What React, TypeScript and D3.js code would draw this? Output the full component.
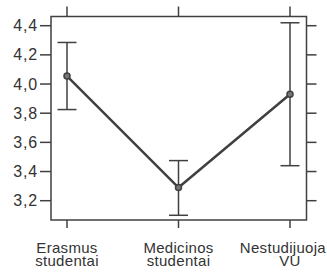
import React, { useEffect, useRef } from "react";
import * as d3 from "d3";

const categories = ["Erasmus\nstudentai", "Medicinos\nstudentai", "Nestudijuoja\nVU"];
const means = [4.055, 3.29, 3.93];
const upper = [4.285, 3.475, 4.42];
const lower = [3.825, 3.1, 3.44];
const yTicks = [3.2, 3.4, 3.6, 3.8, 4.0, 4.2, 4.4];

const App: React.FC = () => {
  const svgRef = useRef<SVGSVGElement>(null);

  useEffect(() => {
    if (!svgRef.current) return;
    const width = 327;
    const height = 275;
    const box = { left: 51, right: 306.5, top: 16.5, bottom: 220 };
    const color = "#404040";
    const font = "Liberation Sans, Arial, sans-serif";

    const svg = d3.select(svgRef.current);
    svg.selectAll("*").remove();
    svg.attr("width", width).attr("height", height).style("display", "block");

    const x = d3
      .scalePoint<number>()
      .domain(categories.map((_, i) => i))
      .range([67, 290]);
    const y = d3.scaleLinear().domain([3.2, 4.4]).range([200.7, 25.7]);

    const fmt = (v: number) => d3.format(".1f")(v).replace(".", ",");

    // frame
    svg
      .append("rect")
      .attr("x", box.left)
      .attr("y", box.top)
      .attr("width", box.right - box.left)
      .attr("height", box.bottom - box.top)
      .attr("fill", "none")
      .attr("stroke", color)
      .attr("stroke-width", 1.5);

    // y ticks left and right
    const yt = svg.append("g");
    yTicks.forEach((t) => {
      yt.append("line")
        .attr("x1", box.left - 11)
        .attr("x2", box.left)
        .attr("y1", y(t))
        .attr("y2", y(t))
        .attr("stroke", color)
        .attr("stroke-width", 1.5);
      yt.append("line")
        .attr("x1", box.right)
        .attr("x2", box.right + 10)
        .attr("y1", y(t))
        .attr("y2", y(t))
        .attr("stroke", color)
        .attr("stroke-width", 1.5);
      yt.append("text")
        .attr("x", box.left - 13)
        .attr("y", y(t))
        .attr("dy", "0.35em")
        .attr("text-anchor", "end")
        .attr("font-family", font)
        .attr("font-size", 16)
        .attr("letter-spacing", 0.8)
        .attr("fill", "#333")
        .text(fmt(t));
    });

    // x ticks top and bottom, labels
    categories.forEach((c, i) => {
      svg
        .append("line")
        .attr("x1", x(i)!)
        .attr("x2", x(i)!)
        .attr("y1", box.top - 10)
        .attr("y2", box.top)
        .attr("stroke", color)
        .attr("stroke-width", 1.5);
      svg
        .append("line")
        .attr("x1", x(i)!)
        .attr("x2", x(i)!)
        .attr("y1", box.bottom)
        .attr("y2", box.bottom + 8)
        .attr("stroke", color)
        .attr("stroke-width", 1.5);
      c.split("\n").forEach((line, j) => {
        const t = svg
          .append("text")
          .attr("text-anchor", "middle")
          .attr("font-family", font)
          .attr("font-size", 15)
          .attr("letter-spacing", 0.3)
          .attr("fill", "#333")
          .attr("x", x(i)!)
          .attr("y", 253 + j * 13)
          .text(line);
        // keep label inside the picture
        const w = (t.node() as SVGTextElement).getComputedTextLength();
        const cx = Math.min(x(i)!, width - 1 - w / 2);
        t.attr("x", cx);
      });
    });

    // error bars
    const cap = 9.5;
    categories.forEach((_, i) => {
      const g = svg.append("g").attr("stroke", color).attr("stroke-width", 1.5);
      g.append("line")
        .attr("x1", x(i)!)
        .attr("x2", x(i)!)
        .attr("y1", y(upper[i]))
        .attr("y2", y(lower[i]));
      [upper[i], lower[i]].forEach((v) => {
        g.append("line")
          .attr("x1", x(i)! - cap)
          .attr("x2", x(i)! + cap)
          .attr("y1", y(v))
          .attr("y2", y(v));
      });
    });

    // mean line
    const line = d3
      .line<number>()
      .x((_, i) => x(i)!)
      .y((d) => y(d));
    svg
      .append("path")
      .datum(means)
      .attr("fill", "none")
      .attr("stroke", color)
      .attr("stroke-width", 2.5)
      .attr("d", line);

    svg
      .selectAll("circle.pt")
      .data(means)
      .enter()
      .append("circle")
      .attr("class", "pt")
      .attr("cx", (_, i) => x(i)!)
      .attr("cy", (d) => y(d))
      .attr("r", 3)
      .attr("fill", "#777")
      .attr("stroke", color)
      .attr("stroke-width", 1.5);
  }, []);

  return <svg ref={svgRef} style={{ position: "absolute", left: 0, top: 0 }} />;
};

export default App;
